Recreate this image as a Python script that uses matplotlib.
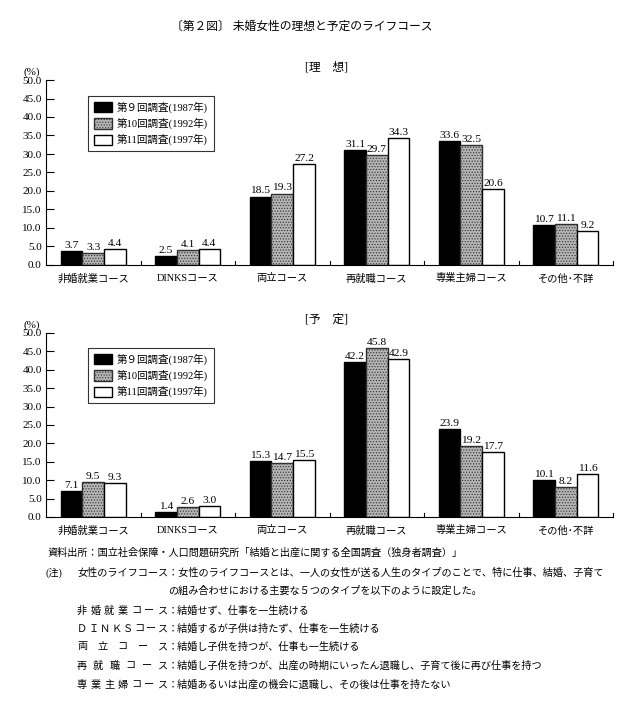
import numpy as np
import matplotlib
matplotlib.use('Agg')
import matplotlib.pyplot as plt

plt.rcParams['font.family'] = ['Liberation Serif', 'Noto Sans CJK JP']
plt.rcParams['hatch.linewidth'] = 0.5

categories = ['非婚就業コース', 'DINKSコース', '両立コース', '再就職コース', '専業主婦コース', 'その他･不詳']
series = ['第９回調査(1987年)', '第10回調査(1992年)', '第11回調査(1997年)']

ideal_1987 = [3.7, 2.5, 18.5, 31.1, 33.6, 10.7]
ideal_1992 = [3.3, 4.1, 19.3, 29.7, 32.5, 11.1]
ideal_1997 = [4.4, 4.4, 27.2, 34.3, 20.6, 9.2]

plan_1987 = [7.1, 1.4, 15.3, 42.2, 23.9, 10.1]
plan_1992 = [9.5, 2.6, 14.7, 45.8, 19.2, 8.2]
plan_1997 = [9.3, 3.0, 15.5, 42.9, 17.7, 11.6]

source = '資料出所：国立社会保障・人口問題研究所「結婚と出産に関する全国調査（独身者調査）」'
course_names = ['非婚就業コース', 'ＤＩＮＫＳコース', '両立コース', '再就職コース', '専業主婦コース']
course_desc = ['結婚せず、仕事を一生続ける',
               '結婚するが子供は持たず、仕事を一生続ける',
               '結婚し子供を持つが、仕事も一生続ける',
               '結婚し子供を持つが、出産の時期にいったん退職し、子育て後に再び仕事を持つ',
               '結婚あるいは出産の機会に退職し、その後は仕事を持たない']

size = 635, 702
dpi = 100.0
fig = plt.figure(figsize=(size[0]/dpi, size[1]/dpi), dpi=dpi)


def fy(py):
    return 1 - py/size[1]


def fx(px):
    return px/size[0]


styles = [dict(facecolor='black', edgecolor='black'),
          dict(facecolor='#b4b4b4', edgecolor='#303030', hatch='......'),
          dict(facecolor='white', edgecolor='black')]

AX_L, AX_R = 46, 613


def panel(bottom_px, top_px, data, subtitle, sub_y, leg_x, leg_y):
    ax = fig.add_axes([fx(AX_L), fy(bottom_px), fx(AX_R) - fx(AX_L), fy(top_px) - fy(bottom_px)])
    x = np.arange(len(categories))
    w = 0.23
    bars = []
    for k, vals in enumerate(data):
        b = ax.bar(x + (k - 1)*w, vals, w, linewidth=1.0, label=series[k], **styles[k])
        bars.append(b)
        for xi, v in zip(x + (k - 1)*w, vals):
            ax.text(xi, v + 0.3, '%.1f' % v, ha='center', va='bottom', fontsize=8.2)
    ax.set_xlim(-0.5, len(categories) - 0.5)
    ax.set_ylim(0, 50)
    ticks = np.arange(0, 50.1, 5)
    ax.set_yticks(ticks)
    ax.set_yticklabels(['%.1f' % t for t in ticks], fontsize=8)
    ax.set_xticks(x)
    ax.set_xticklabels(categories, fontsize=7.4)
    ax.tick_params(axis='x', length=0, pad=6)
    ax.tick_params(axis='y', direction='in', length=6, width=0.8, pad=3)
    for sx in np.arange(0.5, len(categories), 1.0):
        ax.plot([sx, sx], [0, 1.2], color='black', lw=0.8, clip_on=False)
    for s in ['top', 'right']:
        ax.spines[s].set_visible(False)
    ax.spines['left'].set_linewidth(0.8)
    ax.spines['bottom'].set_linewidth(0.8)
    fig.text(fx(32), fy(top_px - 8), '(%)', ha='center', va='center', fontsize=8)
    fig.text(fx(327), fy(sub_y), subtitle, ha='center', va='center', fontsize=8.5)
    leg = fig.legend(handles=bars, loc='upper left',
                     bbox_to_anchor=(fx(leg_x), fy(leg_y)),
                     fontsize=7.6, frameon=True, fancybox=False, edgecolor='black',
                     handlelength=1.7, handleheight=1.1, handletextpad=0.5,
                     borderpad=0.55, labelspacing=0.45, borderaxespad=0)
    leg.get_frame().set_linewidth(0.8)
    return ax


panel(265, 80, [ideal_1987, ideal_1992, ideal_1997], '[理　想]', 67, 88, 96)
panel(517, 333, [plan_1987, plan_1992, plan_1997], '[予　定]', 319, 88, 348)

fig.text(fx(302), fy(27), '〔第２図〕 未婚女性の理想と予定のライフコース', ha='center', va='center', fontsize=8.5)

nfs = 7.3
fig.text(fx(47), fy(553), source, ha='left', va='center', fontsize=nfs)
fig.text(fx(45), fy(573), '(注)', ha='left', va='center', fontsize=nfs)
fig.text(fx(77), fy(573), '女性のライフコース：女性のライフコースとは、一人の女性が送る人生のタイプのことで、特に仕事、結婚、子育て',
         ha='left', va='center', fontsize=nfs)
fig.text(fx(168), fy(591), 'の組み合わせにおける主要な５つのタイプを以下のように設定した。',
         ha='left', va='center', fontsize=nfs)

row_y = [611, 629, 647, 666, 685]
for name, desc, ry in zip(course_names, course_desc, row_y):
    xs = np.linspace(82, 163, len(name))
    for ch, cx in zip(name, xs):
        fig.text(fx(cx), fy(ry), ch, ha='center', va='center', fontsize=nfs)
    fig.text(fx(168), fy(ry), '：' + desc, ha='left', va='center', fontsize=nfs)

fig.savefig('out.png', dpi=dpi)
